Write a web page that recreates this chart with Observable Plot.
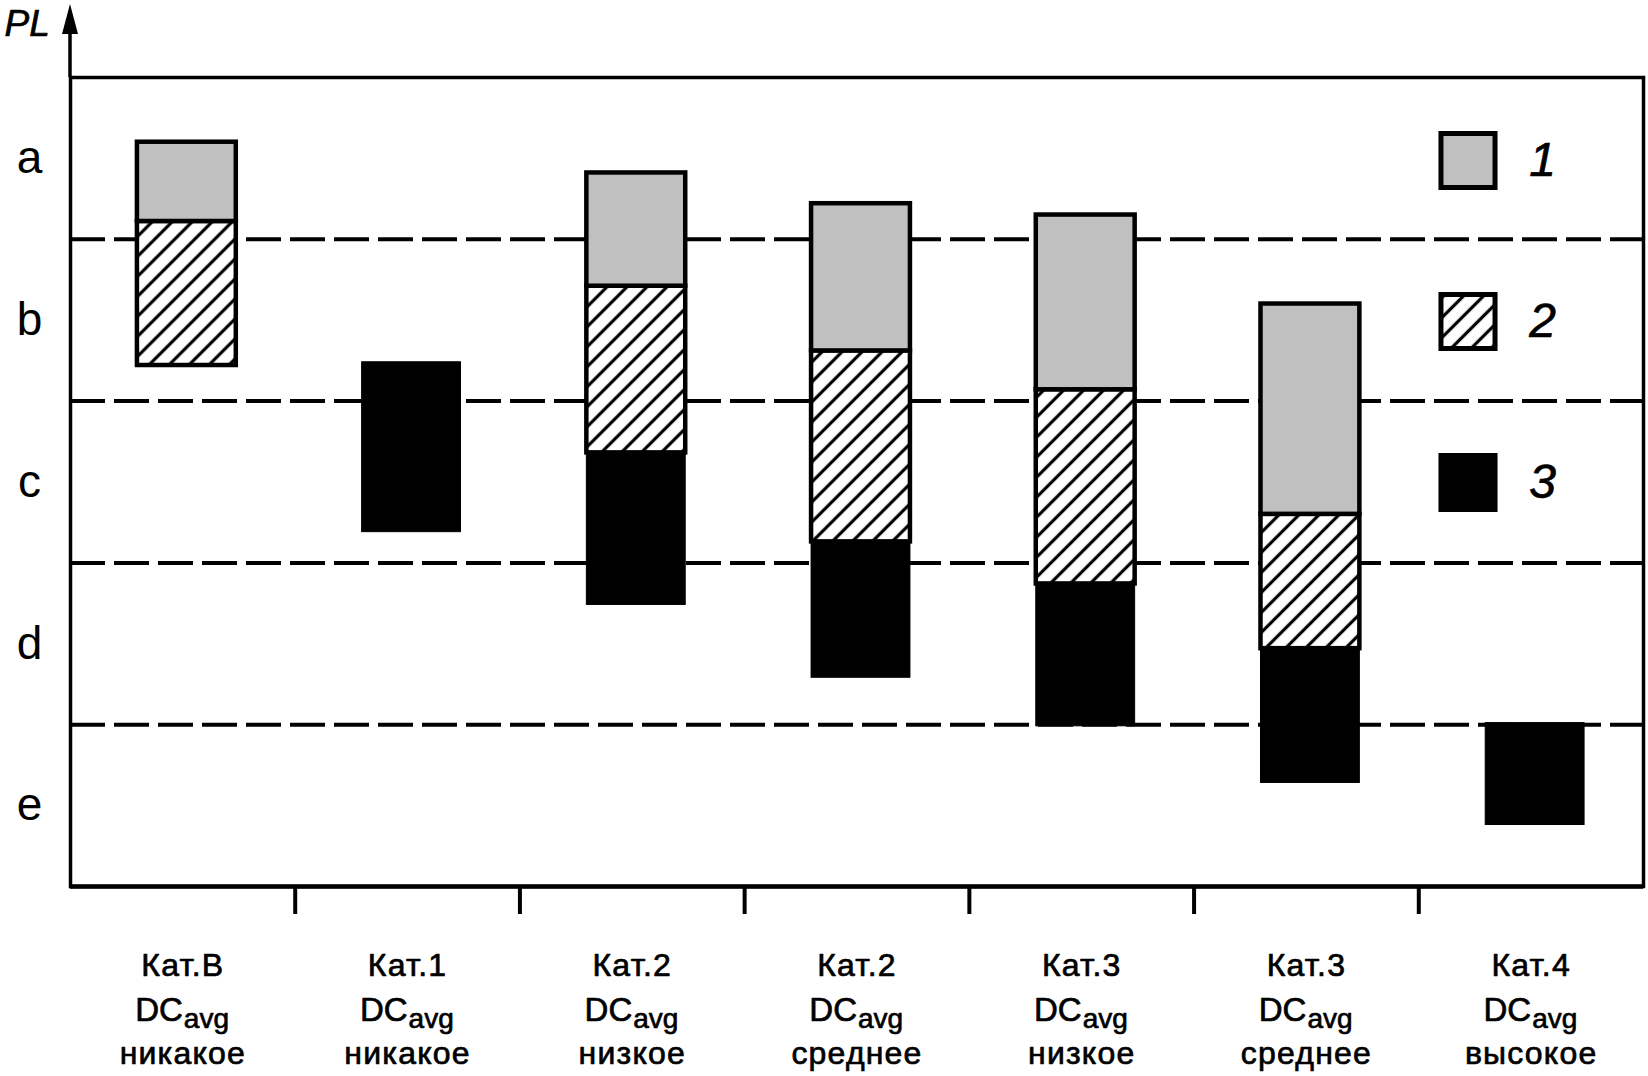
<!DOCTYPE html>
<html><head><meta charset="utf-8">
<script src="https://cdn.jsdelivr.net/npm/d3@7"></script>
<script src="https://cdn.jsdelivr.net/npm/@observablehq/plot@0.6"></script>
<style>
body{margin:0;background:#fff}
#chart svg{display:block}
</style>
</head><body><div id="chart"></div>
<script>
// Categories (x) and their DCavg level
const categories = ["Кат.В","Кат.1","Кат.2","Кат.2","Кат.3","Кат.3","Кат.4"];
const dcLevels = ["никакое","никакое","низкое","среднее","низкое","среднее","высокое"];
// PL levels, bottom (e) to top (a); each band is one unit high
const plLevels = ["e","d","c","b","a"];
// Series 1 (grey), 2 (hatched), 3 (black): segment top / bottom in PL units
const s1Top    = [4.60, null, 4.41, 4.22, 4.15, 3.60, null];
const s1Bottom = [4.11, null, 3.71, 3.31, 3.07, 2.30, null];
const s2Top    = [4.11, null, 3.71, 3.31, 3.07, 2.30, null];
const s2Bottom = [3.22, null, 2.68, 2.13, 1.87, 1.47, null];
const s3Top    = [null, 3.24, 2.68, 2.13, 1.87, 1.47, 1.01];
const s3Bottom = [null, 2.19, 1.74, 1.29, 0.99, 0.64, 0.38];
const legendLabels = ["1","2","3"];
const bandBoundaries = [1,2,3,4,5,6];
const plBoundaries = [1,2,3,4];

const FONT = "'Liberation Sans', Arial, Helvetica, sans-serif";
const seg = (top, bottom) => categories.map((c, i) => ({i, top: top[i], bottom: bottom[i]})).filter(d => d.top != null && d.bottom != null);
const idx = categories.map((c, i) => ({i, cat: c, lvl: dcLevels[i]}));

const HALF = 0.22; // half bar width in category units
const barOpts = (fill, extra = {}) => ({
  x1: d => d.i + 0.5 - HALF, x2: d => d.i + 0.5 + HALF,
  y1: "bottom", y2: "top", fill, stroke: "black", strokeWidth: 4.5, dx: 4, ...extra
});

const fills = ["#c0c0c0", "url(#hatch)", "black"];
const heavy = {stroke: "black", strokeWidth: 0.7, fill: "black"};

// arrow on the y axis, drawn in pixel space from the plot dimensions
const arrowMark = (index, scales, values, dimensions) => {
  const ns = "http://www.w3.org/2000/svg";
  const g = document.createElementNS(ns, "g");
  const x = dimensions.marginLeft;
  const line = document.createElementNS(ns, "line");
  line.setAttribute("x1", x); line.setAttribute("x2", x);
  line.setAttribute("y1", dimensions.marginTop); line.setAttribute("y2", 30);
  line.setAttribute("stroke", "black"); line.setAttribute("stroke-width", 3.5);
  const tri = document.createElementNS(ns, "polygon");
  tri.setAttribute("points", `${x},4 ${x - 8},34 ${x + 8},34`);
  tri.setAttribute("fill", "black");
  g.appendChild(line); g.appendChild(tri);
  return g;
};

const legendMarks = legendLabels.flatMap((lab, k) => {
  const dy = 83 + k * 161;
  return [
    Plot.dot([lab], {frameAnchor: "top-right", dx: -175.5, dy, symbol: "square", r: 30.5,
      fill: fills[k], stroke: "black", strokeWidth: 5}),
    Plot.text([lab], {frameAnchor: "top-right", dx: -101, dy, text: d => d, fontSize: 48,
      fontStyle: "italic", textAnchor: "middle", lineAnchor: "middle", ...heavy})
  ];
});

const labelStyle = {fontSize: 32, lineAnchor: "bottom", ...heavy};

const chart = Plot.plot({
  width: 1648, height: 1076,
  marginLeft: 70, marginRight: 5, marginTop: 77, marginBottom: 190,
  style: {fontFamily: FONT, background: "white", color: "black", overflow: "visible"},
  x: {domain: [0, categories.length], axis: null},
  y: {domain: [0, plLevels.length], axis: null},
  marks: [
    Plot.ruleY(plBoundaries, {stroke: "black", strokeWidth: 4, strokeDasharray: "35,9"}),
    Plot.rect(seg(s2Top, s2Bottom), barOpts(fills[1])),
    Plot.rect(seg(s1Top, s1Bottom), barOpts(fills[0])),
    Plot.rect(seg(s3Top, s3Bottom), barOpts(fills[2], {strokeWidth: 1})),
    Plot.frame({stroke: "black", strokeWidth: 3.5}),
    Plot.ruleY([0], {stroke: "black", strokeWidth: 4.5}),
    arrowMark,
    Plot.axisX(bandBoundaries, {tickSize: 28, strokeWidth: 4, tickFormat: () => "", stroke: "black"}),
    Plot.axisY(plLevels.map((l, k) => k + 0.5), {tickSize: 0, tickPadding: 41, textAnchor: "middle",
      fontSize: 46, tickFormat: v => plLevels[Math.floor(v)], fill: "black", stroke: "black", strokeWidth: 0.7}),
    Plot.text(["PL"], {frameAnchor: "top-left", dx: -66, dy: -42, text: d => d, textAnchor: "start",
      lineAnchor: "bottom", fontSize: 37, fontStyle: "italic", ...heavy}),
    // category labels (three lines, middle one with subscript)
    Plot.text(idx, {x: d => d.i + 0.5, frameAnchor: "bottom", dy: 89, text: "cat", textAnchor: "middle",
      ...labelStyle, style: {letterSpacing: "1.5px"}}),
    Plot.text(idx, {x: d => d.i + 0.5, frameAnchor: "bottom", dy: 134, text: () => "DC", textAnchor: "end",
      ...labelStyle, fontSize: 33}),
    Plot.text(idx, {x: d => d.i + 0.5, frameAnchor: "bottom", dy: 141, dx: 1, text: () => "avg", textAnchor: "start",
      ...labelStyle, fontSize: 28}),
    Plot.text(idx, {x: d => d.i + 0.5, frameAnchor: "bottom", dy: 177, text: "lvl", textAnchor: "middle",
      ...labelStyle}),
    ...legendMarks
  ]
});

// hatch pattern definition
const ns = "http://www.w3.org/2000/svg";
const defs = document.createElementNS(ns, "defs");
defs.innerHTML = `<pattern id="hatch" patternUnits="userSpaceOnUse" width="14.14" height="14.14" patternTransform="rotate(45)">
  <rect x="-1" y="-1" width="16.14" height="16.14" fill="white"/>
  <line x1="7.07" y1="-1" x2="7.07" y2="15.14" stroke="black" stroke-width="3.2"/>
</pattern>`;
chart.insertBefore(defs, chart.firstChild);
// letter spacing for category / level labels
chart.querySelectorAll("text").forEach(t => {
  if (t.textContent.length > 3 && !/^[a-e]$/.test(t.textContent)) t.style.letterSpacing = "1.2px";
});
document.getElementById("chart").appendChild(chart);
</script>
</body></html>
